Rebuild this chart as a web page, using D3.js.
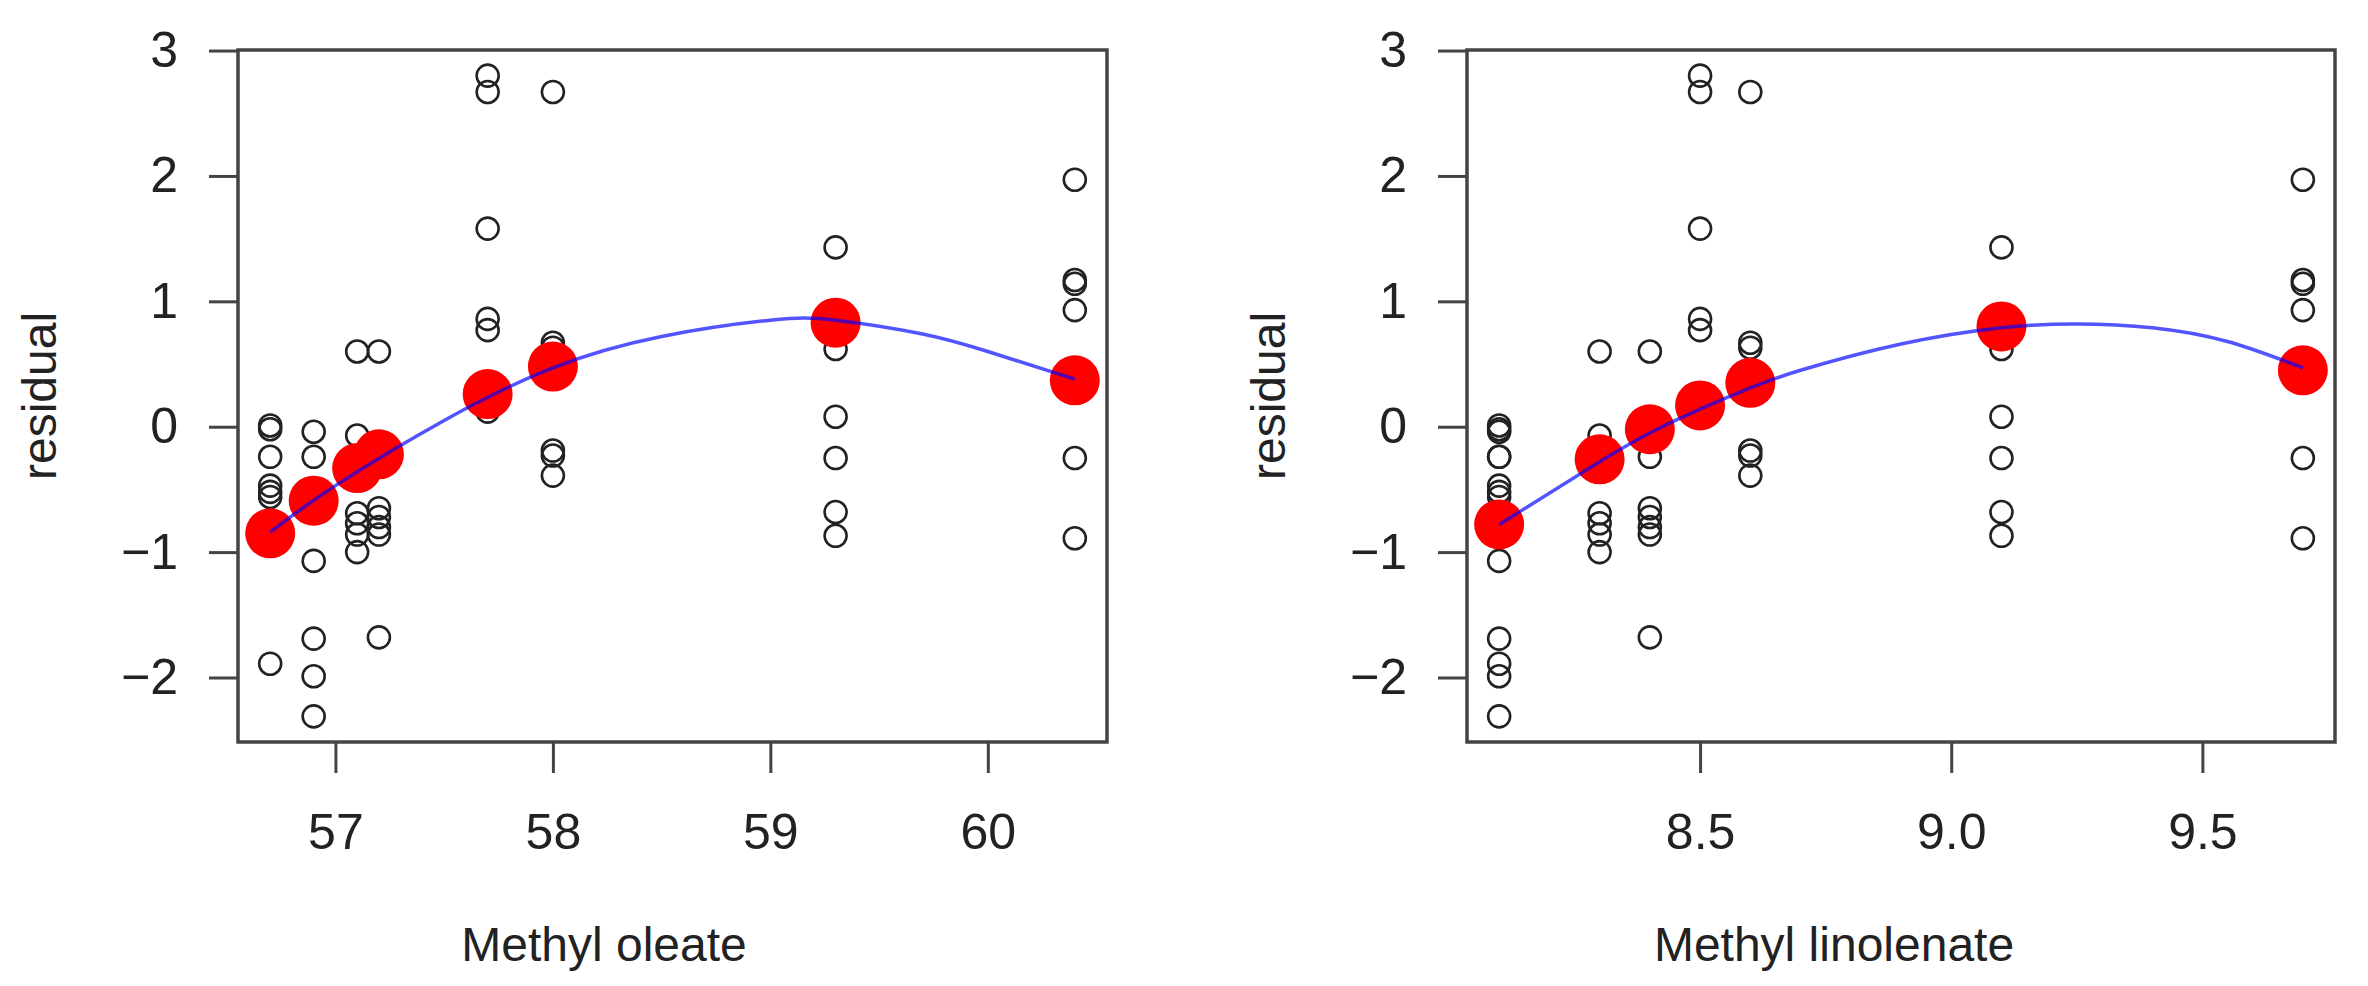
<!DOCTYPE html>
<html>
<head>
<meta charset="utf-8">
<script src="https://cdn.jsdelivr.net/npm/d3@7"></script>
<style>
  html, body { margin: 0; padding: 0; background: #ffffff; }
  svg { display: block; }
  text { font-family: "Liberation Sans", Arial, sans-serif; fill: #222; }
</style>
</head>
<body>
<svg id="chart" width="2368" height="986"></svg>
<script>
// ---------- data ----------
const oleate = [
  56.7, 56.7, 56.7, 56.7, 56.7, 56.7, 56.7,
  56.9, 56.9, 56.9, 56.9, 56.9, 56.9,
  57.1, 57.1, 57.1, 57.1, 57.1, 57.1,
  57.2, 57.2, 57.2, 57.2, 57.2, 57.2, 57.2,
  57.7, 57.7, 57.7, 57.7, 57.7, 57.7,
  58.0, 58.0, 58.0, 58.0, 58.0, 58.0,
  59.3, 59.3, 59.3, 59.3, 59.3, 59.3,
  60.4, 60.4, 60.4, 60.4, 60.4, 60.4
];
const linolenate = [
  8.1, 8.1, 8.1, 8.1, 8.1, 8.1, 8.1,
  8.1, 8.1, 8.1, 8.1, 8.1, 8.1,
  8.3, 8.3, 8.3, 8.3, 8.3, 8.3,
  8.4, 8.4, 8.4, 8.4, 8.4, 8.4, 8.4,
  8.5, 8.5, 8.5, 8.5, 8.5, 8.5,
  8.6, 8.6, 8.6, 8.6, 8.6, 8.6,
  9.1, 9.1, 9.1, 9.1, 9.1, 9.1,
  9.7, 9.7, 9.7, 9.7, 9.7, 9.7
];
const residual = [
  0.01, -0.02, -0.24, -0.47, -0.52, -0.56, -1.89,
  -0.04, -0.24, -1.07, -1.69, -1.99, -2.31,
  0.60, -0.07, -0.69, -0.77, -0.86, -1.00,
  0.60, -0.24, -0.65, -0.72, -0.80, -0.86, -1.68,
  2.80, 2.67, 1.58, 0.86, 0.77, 0.12,
  2.67, 0.67, 0.63, -0.19, -0.23, -0.39,
  1.43, 0.62, 0.08, -0.25, -0.68, -0.87,
  1.97, 1.17, 1.14, 0.93, -0.25, -0.89
];

// group means (red points)
const oleateLevels = [56.7, 56.9, 57.1, 57.2, 57.7, 58.0, 59.3, 60.4];
const oleateMeans  = [-0.85, -0.59, -0.33, -0.22, 0.26, 0.48, 0.83, 0.37];
const linolenateLevels = [8.1, 8.3, 8.4, 8.5, 8.6, 9.1, 9.7];
const linolenateMeans  = [-0.78, -0.26, -0.02, 0.17, 0.35, 0.80, 0.45];

// smooth fitted curves (blue)
const oleateCurveX = [56.7, 57.0, 57.5, 58.0, 58.5, 59.0, 59.3, 59.7, 60.0, 60.4];
const oleateCurveY = [-0.84, -0.47, 0.05, 0.47, 0.72, 0.85, 0.85, 0.74, 0.60, 0.38];
const linolenateCurveX = [8.1, 8.3, 8.4, 8.5, 8.6, 8.7, 8.9, 9.1, 9.25, 9.4, 9.55, 9.7];
const linolenateCurveY = [-0.78, -0.28, -0.05, 0.14, 0.31, 0.45, 0.66, 0.79, 0.82, 0.79, 0.68, 0.47];

// ticks and labels
const residualTicks = [-2, -1, 0, 1, 2, 3];
const oleateTicks = [57, 58, 59, 60];
const linolenateTicks = [8.5, 9.0, 9.5];
const yTitle = "residual";
const oleateTitle = "Methyl oleate";
const linolenateTitle = "Methyl linolenate";

// ---------- drawing ----------
const svg = d3.select("#chart");
svg.append("rect").attr("width", 2368).attr("height", 986).attr("fill", "#ffffff");

function extendRange(vals) {
  const [lo, hi] = d3.extent(vals);
  const pad = (hi - lo) * 0.04;
  return [lo - pad, hi + pad];
}

function panel(opts) {
  const { left, right, top, bottom, xs, ys, levels, means, cx, cy, xTicks, xFmt, title, titleX } = opts;
  const x = d3.scaleLinear().domain(extendRange(xs)).range([left, right]);
  const y = d3.scaleLinear().domain(extendRange(ys)).range([bottom, top]);
  const g = svg.append("g");

  // open circles
  g.append("g").selectAll("circle")
    .data(xs.map((v, i) => [v, ys[i]]))
    .join("circle")
    .attr("cx", d => x(d[0]))
    .attr("cy", d => y(d[1]))
    .attr("r", 11)
    .attr("fill", "none")
    .attr("stroke", "#222")
    .attr("stroke-width", 2.6);

  // red mean points
  g.append("g").selectAll("circle")
    .data(levels.map((v, i) => [v, means[i]]))
    .join("circle")
    .attr("cx", d => x(d[0]))
    .attr("cy", d => y(d[1]))
    .attr("r", 25)
    .attr("fill", "#ff0000");

  // blue smooth curve
  const line = d3.line().x(d => x(d[0])).y(d => y(d[1])).curve(d3.curveNatural);
  g.append("path")
    .datum(cx.map((v, i) => [v, cy[i]]))
    .attr("d", line)
    .attr("fill", "none")
    .attr("stroke", "#0000ff")
    .attr("stroke-opacity", 0.67)
    .attr("stroke-width", 3.5);

  // axes
  const xAxis = d3.axisBottom(x).tickValues(xTicks).tickFormat(xFmt).tickSize(31).tickPadding(40);
  const yAxis = d3.axisLeft(y).tickValues(residualTicks).tickFormat(d3.format("d")).tickSize(29).tickPadding(31);

  const gx = g.append("g").attr("transform", `translate(0,${bottom})`).call(xAxis);
  const gy = g.append("g").attr("transform", `translate(${left},0)`).call(yAxis);
  [gx, gy].forEach(a => {
    a.select(".domain").remove();
    a.selectAll("line").attr("stroke", "#444").attr("stroke-width", 3);
    a.selectAll("text")
      .attr("font-family", '"Liberation Sans", Arial, sans-serif')
      .attr("font-size", 50)
      .attr("fill", "#222");
  });

  // box
  g.append("rect")
    .attr("x", left).attr("y", top)
    .attr("width", right - left).attr("height", bottom - top)
    .attr("fill", "none").attr("stroke", "#444").attr("stroke-width", 3.5);

  // titles
  g.append("text")
    .attr("x", titleX).attr("y", 961)
    .attr("text-anchor", "middle")
    .attr("font-size", 48)
    .text(title);
  g.append("text")
    .attr("transform", `translate(${left - 182},${(top + bottom) / 2}) rotate(-90)`)
    .attr("text-anchor", "middle")
    .attr("font-size", 48)
    .text(yTitle);
}

panel({
  left: 238, right: 1107, top: 50, bottom: 742,
  xs: oleate, ys: residual,
  levels: oleateLevels, means: oleateMeans,
  cx: oleateCurveX, cy: oleateCurveY,
  xTicks: oleateTicks, xFmt: d3.format("d"),
  title: oleateTitle, titleX: 604
});

panel({
  left: 1467, right: 2335, top: 50, bottom: 742,
  xs: linolenate, ys: residual,
  levels: linolenateLevels, means: linolenateMeans,
  cx: linolenateCurveX, cy: linolenateCurveY,
  xTicks: linolenateTicks, xFmt: d3.format(".1f"),
  title: linolenateTitle, titleX: 1834
});
</script>
</body>
</html>
